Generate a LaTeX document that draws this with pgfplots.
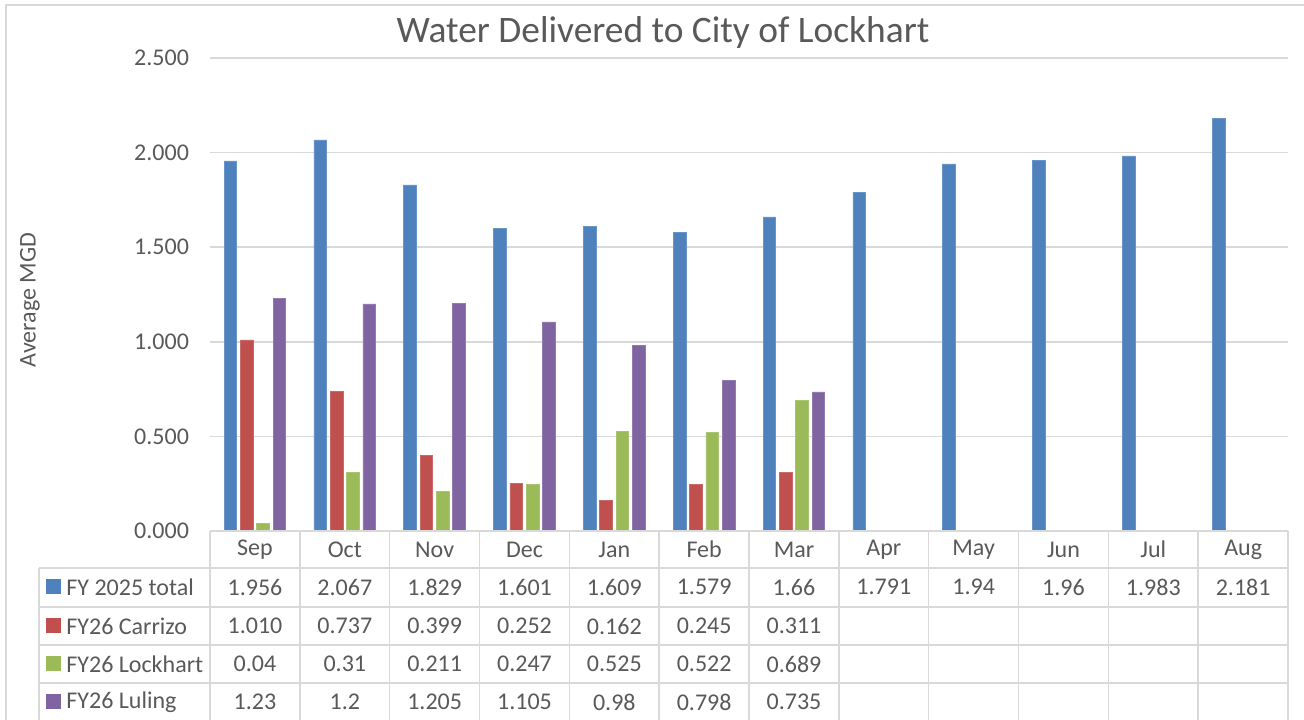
\documentclass[border=0pt]{standalone}
\usepackage{pgfplots}
\pgfplotsset{compat=1.18}
\usepackage{pgfplotstable}
\usepackage{fontspec}
\setmainfont{Carlito}

\definecolor{cTot}{HTML}{4F81BD}
\definecolor{cCar}{HTML}{C0504D}
\definecolor{cLoc}{HTML}{9BBB59}
\definecolor{cLul}{HTML}{8064A2}
\definecolor{txt}{HTML}{595959}
\definecolor{grd}{HTML}{D9D9D9}

% month index, FY 2025 total, FY26 Carrizo, FY26 Lockhart, FY26 Luling
\pgfplotstableread{
m total carrizo lockhart luling
0  1.956 1.010 0.04  1.23
1  2.067 0.737 0.31  1.2
2  1.829 0.399 0.211 1.205
3  1.601 0.252 0.247 1.105
4  1.609 0.162 0.525 0.98
5  1.579 0.245 0.522 0.798
6  1.66  0.311 0.689 0.735
7  1.791 nan   nan   nan
8  1.94  nan   nan   nan
9  1.96  nan   nan   nan
10 1.983 nan   nan   nan
11 2.181 nan   nan   nan
}\data

\begin{document}
\begin{tikzpicture}
\useasboundingbox (0,0) rectangle (652pt,-359.5pt);

\begin{axis}[
    at={(105pt,-265.5pt)}, anchor=south west,
    scale only axis,
    width=539pt, height=236.5pt,
    xmin=-0.5, xmax=11.5,
    ymin=0, ymax=2.5,
    axis line style={draw=none},
    xtick=\empty,
    ytick={0,0.5,1,1.5,2,2.5},
    major tick length=0pt,
    ymajorgrids,
    grid style={grd, line width=0.75pt},
    /pgf/number format/assume math mode=true,
    yticklabel={\pgfmathprintnumber[fixed,fixed zerofill,precision=3]{\tick}},
    yticklabel style={text=txt, font=\fontsize{12}{14}\selectfont, xshift=-7pt},
    clip=false,
]
\addplot[ybar, bar width=0.141, bar shift=-0.273, fill=cTot, draw=cTot!85!white, line width=0.3pt] table[x=m,y=total]{\data};
\addplot[ybar, bar width=0.141, bar shift=-0.091, fill=cCar, draw=cCar!85!white, line width=0.3pt] table[x=m,y=carrizo]{\data};
\addplot[ybar, bar width=0.141, bar shift=0.091, fill=cLoc, draw=cLoc!85!white, line width=0.3pt] table[x=m,y=lockhart]{\data};
\addplot[ybar, bar width=0.141, bar shift=0.273, fill=cLul, draw=cLul!85!white, line width=0.3pt] table[x=m,y=luling]{\data};
\end{axis}

\begin{scope}[x=0.5pt,y=-0.5pt]
% chart area border (cropped)
\draw[grd, line width=0.75pt] (6,730) -- (6,5) -- (1310,5);

% title and axis label
\node[text=txt, font=\fontsize{18.7}{22}\selectfont] at (663,33) {Water Delivered to City of Lockhart};
\node[text=txt, font=\fontsize{12}{14}\selectfont, rotate=90] at (30,300) {Average MGD};

% data table grid
\begin{scope}[grd, line width=0.75pt]
\draw (210,531) -- (1288,531);
\foreach \yy in {568,607,645,683} \draw (39,\yy) -- (1288,\yy);
\draw (39,568) -- (39,730);
\foreach \k in {0,...,12} \draw ({210+89.833*\k},531) -- ({210+89.833*\k},730);
\end{scope}

\begin{scope}[every node/.style={text=txt, font=\fontsize{12}{14}\selectfont}]
% months
\foreach \mo [count=\i from 0] in {Sep,Oct,Nov,Dec,Jan,Feb,Mar,Apr,May,Jun,Jul,Aug}
  \node at ({255+89.833*\i},549.5) {\mo};
% legend keys
\fill[cTot] (46,579) rectangle (61,594);
\fill[cCar] (46,618) rectangle (61,633);
\fill[cLoc] (46,656) rectangle (61,671);
\fill[cLul] (46,694) rectangle (61,709);
\node[anchor=west, inner sep=0pt] at (66,587) {FY 2025 total};
\node[anchor=west, inner sep=0pt] at (66,626) {FY26 Carrizo};
\node[anchor=west, inner sep=0pt] at (66,664) {FY26 Lockhart};
\node[anchor=west, inner sep=0pt] at (66,702) {FY26 Luling};
% values
\foreach \v [count=\i from 0] in {1.956,2.067,1.829,1.601,1.609,1.579,1.66,1.791,1.94,1.96,1.983,2.181}
  \node at ({255+89.833*\i},587) {\v};
\foreach \v [count=\i from 0] in {1.010,0.737,0.399,0.252,0.162,0.245,0.311}
  \node at ({255+89.833*\i},626) {\v};
\foreach \v [count=\i from 0] in {0.04,0.31,0.211,0.247,0.525,0.522,0.689}
  \node at ({255+89.833*\i},664) {\v};
\foreach \v [count=\i from 0] in {1.23,1.2,1.205,1.105,0.98,0.798,0.735}
  \node at ({255+89.833*\i},702) {\v};
\end{scope}
\end{scope}
\end{tikzpicture}
\end{document}
